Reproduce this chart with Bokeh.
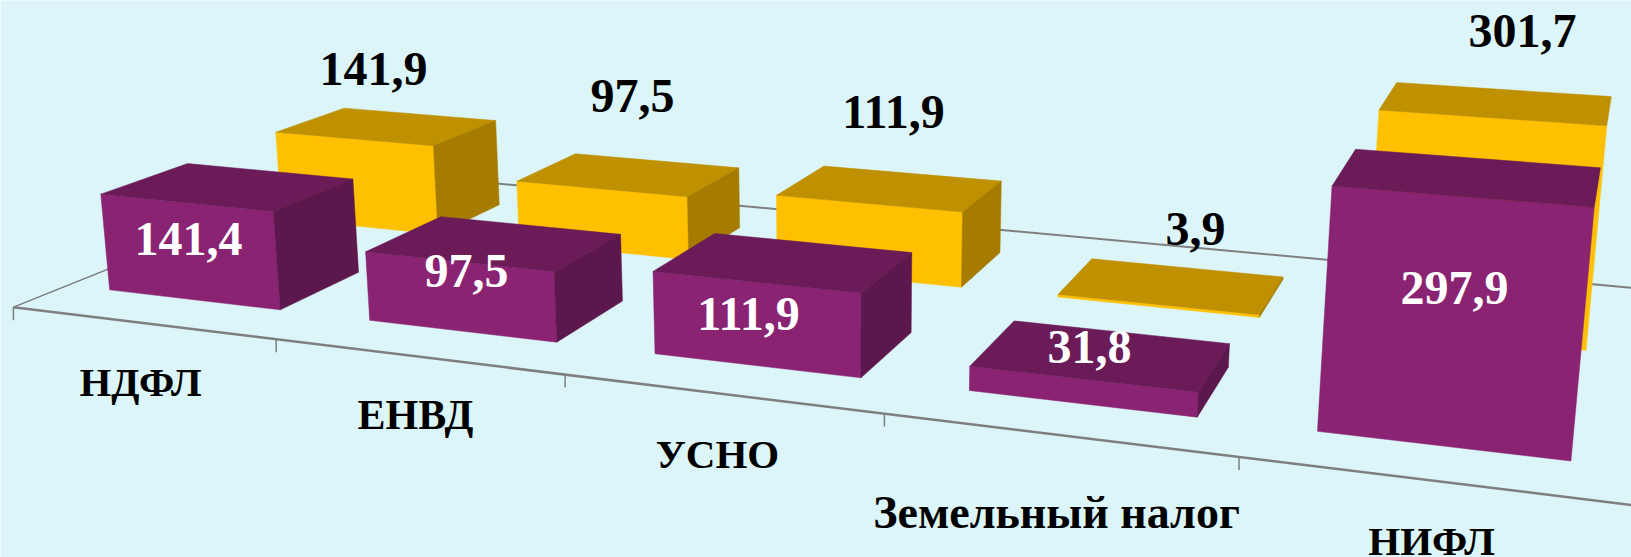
import numpy as np
from bokeh.plotting import figure
from bokeh.models import Range1d
from bokeh.embed import file_html
from bokeh.resources import INLINE
from bokeh.core.properties import value

# ---------- data ----------
categories = ["НДФЛ", "ЕНВД", "УСНО", "Земельный налог", "НИФЛ"]
purple = [141.4, 97.5, 111.9, 31.8, 297.9]
yellow = [141.9, 97.5, 111.9, 3.9, 301.7]

# ---------- 3D view: camera matrix (category, depth, value) -> page pixels ----------
CAMERA = np.array([
    [2.50219611e+02, 4.63668082e+02, -7.26585035e-02, 1.29347687e+01],
    [1.67543702e+01, -1.00240406e+02, -7.11592087e-01, 3.06647840e+02],
    [-4.53633450e-02, 2.75547553e-01, -8.56251301e-05, 1.0],
])
GAP = 0.16685
DEPTH_PURPLE = (0.1237, 0.33733)
DEPTH_YELLOW = (0.58142, 0.79233)
FLOOR_DEPTH = 0.93
BG = "#DBF5F9"
AXIS = "#7F7F7F"
FACES_PURPLE = ("#8B2373", "#6A1B58", "#5C174C")
FACES_YELLOW = ("#FFC000", "#BF9000", "#A67C00")

# hand-placed label anchors, page pixels
PURPLE_LABEL_XY = [(188, 238), (466, 270), (748, 313), (1089, 346), (1454, 287)]
YELLOW_LABEL_XY = [(373, 68), (632, 95), (893, 111), (1195, 228), (1522, 30)]
CATEGORY_XY = [(140, 381), (415, 414), (717, 453), (1056, 512), (1431, 540)]
CATEGORY_SIZE = ["41px", "42px", "41px", "46px", "41px"]


def pr(x, y, z):
    h = CAMERA @ np.array([x, y, z, 1.0])
    return h[0] / h[2], h[1] / h[2]


p = figure(width=1631, height=557, toolbar_location=None, output_backend="svg",
           x_range=Range1d(0, 1631), y_range=Range1d(557, 0), min_border=0)
p.styles = {"position": "absolute", "left": "0px", "top": "0px"}
p.axis.visible = False
p.grid.visible = False
p.outline_line_color = None
p.background_fill_color = BG
p.border_fill_color = BG


def seg(a, b, w):
    A, B = pr(*a), pr(*b)
    p.line([A[0], B[0]], [A[1], B[1]], line_color=AXIS, line_width=w)


n = len(categories)
seg((0, 0, 0), (0, FLOOR_DEPTH, 0), 1.5)
seg((0, FLOOR_DEPTH, 0), (n, FLOOR_DEPTH, 0), 2)
seg((0, 0, 0), (n, 0, 0), 2.5)
for i in range(n):
    tx, ty = pr(i, 0, 0)
    p.line([tx, tx], [ty, ty + 13], line_color=AXIS, line_width=1.5)

for vals, cols, (y_f, y_b) in [(yellow, FACES_YELLOW, DEPTH_YELLOW), (purple, FACES_PURPLE, DEPTH_PURPLE)]:
    for i, v in enumerate(vals):
        xl, xr = i + GAP, i + 1 - GAP
        front = [pr(xl, y_f, 0), pr(xr, y_f, 0), pr(xr, y_f, v), pr(xl, y_f, v)]
        top = [pr(xl, y_f, v), pr(xr, y_f, v), pr(xr, y_b, v), pr(xl, y_b, v)]
        side = [pr(xr, y_f, 0), pr(xr, y_b, 0), pr(xr, y_b, v), pr(xr, y_f, v)]
        faces = [(front, cols[0]), (top, cols[1])]
        if i < n - 1:  # the last bars show no side face in this view
            faces.append((side, cols[2]))
        for q, col in faces:
            p.patch([c[0] for c in q], [c[1] for c in q], fill_color=col, line_color=col, line_width=0.5)


def fmt(v):
    return f"{v:.1f}".replace(".", ",")


def labels(xy, texts, color, size):
    p.text([c[0] for c in xy], [c[1] for c in xy], text=texts, text_color=color,
           text_font=value("Liberation Serif"), text_font_style="bold", text_font_size=size,
           text_align="center", text_baseline="middle")


labels(YELLOW_LABEL_XY, [fmt(v) for v in yellow], "#000000", "48px")
labels(PURPLE_LABEL_XY, [fmt(v) for v in purple], "#FFFFFF", "48px")
for xy, c, size in zip(CATEGORY_XY, categories, CATEGORY_SIZE):
    labels([xy], [c], "#000000", size)

open("out.html", "w").write(file_html(p, INLINE))
